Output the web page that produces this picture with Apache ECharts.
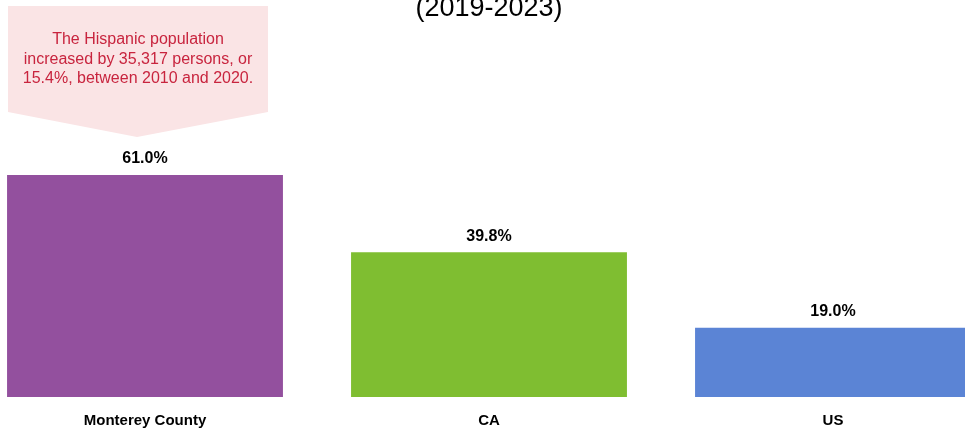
<!DOCTYPE html>
<html>
<head>
<meta charset="utf-8">
<style>
  html, body { margin: 0; padding: 0; background: #ffffff; }
  #chart { width: 965px; height: 434px; }
</style>
<script src="https://cdn.jsdelivr.net/npm/echarts@6/dist/echarts.min.js"></script>
</head>
<body>
<div id="chart"></div>
<script>
// Share of population that is Hispanic or Latino, 2019-2023
const categories = ['Monterey County', 'CA', 'US'];
const hispanicShare = [61.0, 39.8, 19.0];
const barColors = ['#93509E', '#7FBE31', '#5B84D5'];
const subtitleText = '(2019-2023)';
const noteLines = [
  'The Hispanic population',
  'increased by 35,317 persons, or',
  '15.4%, between 2010 and 2020.'
];

const chart = echarts.init(document.getElementById('chart'), null, { renderer: 'canvas' });

const FONT = 'Liberation Sans, Arial, sans-serif';

chart.setOption({
  animation: false,
  backgroundColor: '#ffffff',
  grid: {
    left: -27, right: -40, top: 33.1, bottom: 37,
    containLabel: false,
    outerBoundsMode: 'none'
  },
  xAxis: {
    type: 'category',
    data: categories,
    axisLine: { show: false },
    axisTick: { show: false },
    axisLabel: {
      margin: 16,
      color: '#000000',
      fontFamily: FONT,
      fontWeight: 'bold',
      fontSize: 15
    }
  },
  yAxis: {
    type: 'value',
    min: 0,
    max: 100,
    show: false,
    splitLine: { show: false }
  },
  series: [{
    type: 'bar',
    barCategoryGap: '19.8%',
    data: hispanicShare.map((v, i) => ({ value: v, itemStyle: { color: barColors[i] } })),
    label: {
      show: true,
      position: 'top',
      distance: 8,
      color: '#000000',
      fontFamily: FONT,
      fontWeight: 'bold',
      fontSize: 16,
      formatter: p => p.value.toFixed(1) + '%'
    }
  }],
  graphic: [
    {
      type: 'text',
      style: {
        x: 489, y: 22,
        text: subtitleText,
        fill: '#000000',
        font: '27px ' + FONT,
        textAlign: 'center',
        textVerticalAlign: 'bottom'
      }
    },
    {
      type: 'polygon',
      shape: { points: [[8, 6], [268, 6], [268, 112], [137, 137], [8, 112]] },
      style: { fill: '#FAE4E5' }
    },
    {
      type: 'text',
      style: {
        x: 138, y: 30,
        text: noteLines.join('\n'),
        fill: '#C8243E',
        font: '16px ' + FONT,
        lineHeight: 19.5,
        textAlign: 'center',
        textVerticalAlign: 'top'
      }
    }
  ]
});
</script>
</body>
</html>
